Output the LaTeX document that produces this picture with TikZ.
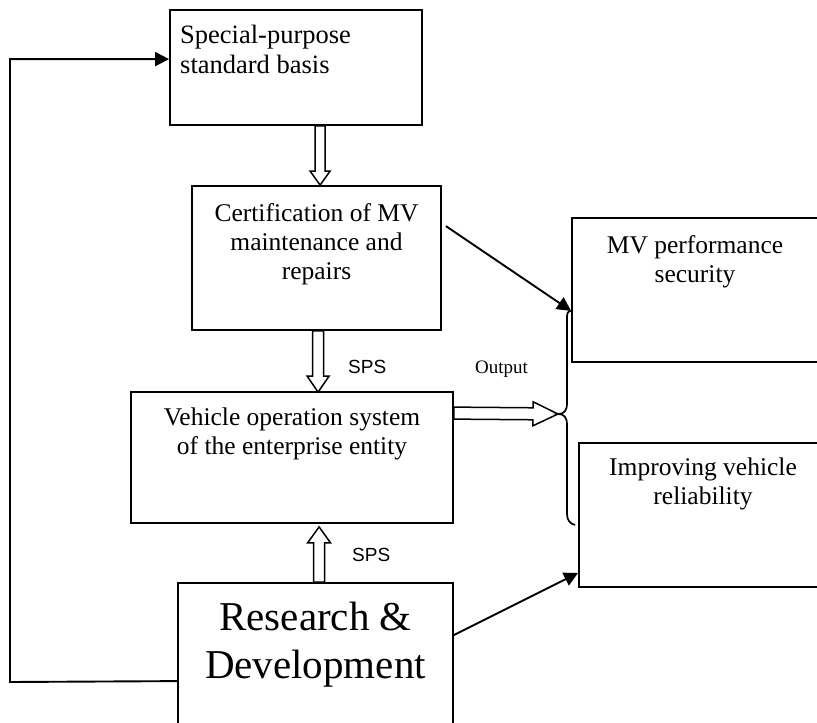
\documentclass[tikz,border=0pt]{standalone}
\usepackage{fontspec}
\setmainfont{Liberation Serif}
\newfontfamily\sansf{Liberation Sans}
\usetikzlibrary{arrows.meta,calc}
\newcommand\fatarrow[6]{%
  \coordinate (#3h) at ($(#2)!#4!(#1)$);
  \draw[fatarr] ($(#1)!#5!90:(#2)$) -- ($(#3h)!#5!90:(#2)$) -- ($(#3h)!#6!90:(#2)$) -- (#2)
     -- ($(#3h)!#6!-90:(#2)$) -- ($(#3h)!#5!-90:(#2)$) -- ($(#1)!#5!-90:(#2)$) -- cycle;}
\tikzset{
  box/.style={draw, line width=1.8pt, rectangle, inner sep=0pt},
  lbl/.style={inner sep=0pt, align=center, font=\fontsize{25.5}{29}\selectfont},
  arr/.style={line width=1.9pt, -{Triangle[length=14pt,width=14pt]}},
  fatarr/.style={line width=1.5pt, fill=white, line join=miter},
  brace/.style={line width=1.7pt},
  smalllbl/.style={anchor=base west, inner sep=0pt},
}
\begin{document}
\begin{tikzpicture}[x=1pt,y=-1pt]
\useasboundingbox (0,0) rectangle (817,723);
\fill[white] (0,0) rectangle (817,723);
\clip (0,0) rectangle (817,723);

\node[box, minimum width=252pt, minimum height=115pt] (b1) at (296,67.5) {};
\node[lbl, anchor=north west, align=left, font=\fontsize{26.5}{30}\selectfont] (t1) at (180,25) {Special-purpose\\standard basis};
\node[box, minimum width=249pt, minimum height=144pt] (b2) at (316.5,258) {};
\node[lbl, anchor=north] (t2) at (316.5,203) {Certification of MV\\maintenance and\\repairs};
\node[box, minimum width=322pt, minimum height=131pt] (b3) at (292,457.5) {};
\node[lbl, anchor=north] (t3) at (292,408) {Vehicle operation system\\of the enterprise entity};
\node[box, minimum width=275pt, minimum height=157pt] (rd) at (315.5,661.5) {};
\node[lbl, anchor=north, font=\fontsize{41}{48}\selectfont] (t4) at (315.5,602) {Research \&\\Development};
\node[box, minimum width=250pt, minimum height=144pt] (mv) at (697,290) {};
\node[lbl, anchor=north] (t5) at (695,235) {MV performance\\security};
\node[box, minimum width=251pt, minimum height=144pt] (imp) at (704.5,515) {};
\node[lbl, anchor=north] (t6) at (703,458) {Improving vehicle\\reliability};

\node[smalllbl, font=\sansf\fontsize{19}{22}\selectfont] (sps1) at (348,373) {SPS};
\node[smalllbl, font=\sansf\fontsize{19}{22}\selectfont] (sps2) at (352,561) {SPS};
\node[smalllbl, font=\fontsize{19}{21}\selectfont] (out) at (475,373) {Output};

% hollow arrows
\coordinate (f1a) at ($(b1.south west)+(151,0)$);
\coordinate (f1b) at ($(b2.north west)+(129,0)$);
\fatarrow{f1a}{f1b}{fa}{14pt}{5pt}{10pt}
\coordinate (f2a) at ($(b2.south west)+(127,0)$);
\coordinate (f2b) at ($(b3.north west)+(188,1)$);
\fatarrow{f2a}{f2b}{fb}{16pt}{5.5pt}{11pt}
\coordinate (f3a) at ($(rd.north west)+(142,0)$);
\coordinate (f3b) at ($(b3.south west)+(189,3)$);
\fatarrow{f3a}{f3b}{fc}{16pt}{5.5pt}{11.5pt}
\coordinate (f4a) at ($(b3.north east)+(0,22)$);
\coordinate (bmid) at (558,414);
\fatarrow{f4a}{bmid}{fd}{25pt}{6pt}{12pt}

% brace
\coordinate (btop) at ($(mv.south west)+(0,-52)$);
\coordinate (bbot) at ($(imp.south west)+(-3,-63)$);
\draw[brace] (btop) .. controls (567,311) and (567,314) .. (567,320) -- (567,403)
  .. controls (567,411) and (564,414) .. (bmid)
  .. controls (564,414) and (567,417) .. (567,425) -- (567,514)
  .. controls (567,520) and (570,524) .. (bbot);

% arrows
\coordinate (a1s) at ($(b2.north east)+(4,41)$);
\draw[arr] (a1s) -- (btop);
\coordinate (a2s) at ($(rd.north east)+(0,53)$);
\coordinate (a2e) at ($(imp.south west)+(0,-15)$);
\draw[arr] (a2s) -- (a2e);
\coordinate (fbs) at ($(rd.north west)+(0,99)$);
\coordinate (fbc) at (10,682);
\coordinate (fbe) at ($(b1.north west)+(0,50)$);
\draw[arr] (fbs) -- (fbc) |- (fbe);
\end{tikzpicture}
\end{document}
